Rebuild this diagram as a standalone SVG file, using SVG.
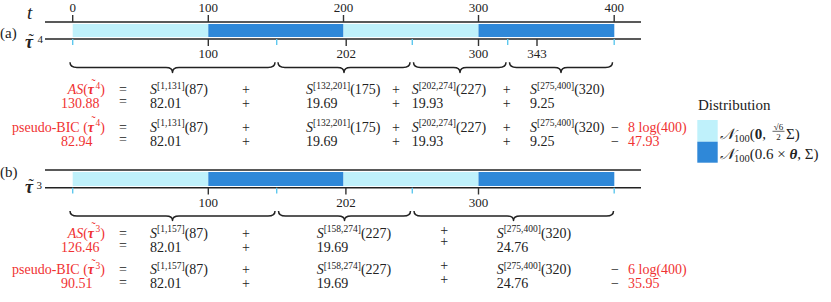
<svg xmlns="http://www.w3.org/2000/svg" width="831" height="302" viewBox="0 0 831 302" font-family="'Liberation Serif', 'DejaVu Serif', serif">
<defs>
<style>
text{font-family:"Liberation Serif","DejaVu Serif",serif;font-size:14px;fill:#222}
.tk{font-size:13px;text-anchor:middle}
.red{fill:#f03232}
.it{font-style:italic}
.sup{font-size:9.5px}
.mid{text-anchor:middle}
.end{text-anchor:end}
.ax{stroke:#222;stroke-width:1.6;fill:none}
.dt{stroke:#333;stroke-width:1.4}
.lt{stroke:#5ec8ee;stroke-width:1.4}
.light{fill:#bff1fb}
.dark{fill:#2f88d8}
.brace{fill:none;stroke:#222;stroke-width:1.5;stroke-linejoin:round}
.tau{font-weight:bold;font-style:italic}
.tl{font-size:12px}
</style>
</defs>
<rect width="831" height="302" fill="#fff"/>

<g id="panel-a">
  <text x="0" y="38" style="font-size:15px">(a)</text>
  <text x="27" y="18.5" class="it" style="font-size:19px">t</text>
  <text x="25" y="48" class="tau" style="font-size:18px">τ</text>
  <text x="28.5" y="45" style="font-size:16px">˜</text>
  <text x="37.5" y="43" style="font-size:11px">4</text>
  <rect class="light" x="72.7" y="24" width="135.6" height="13"/>
  <rect class="dark" x="208.3" y="24" width="135.2" height="13"/>
  <rect class="light" x="343.5" y="24" width="135" height="13"/>
  <rect class="dark" x="478.5" y="24" width="135.8" height="13"/>
  <line class="ax" x1="45" y1="22" x2="641" y2="22"/>
  <line class="ax" x1="45" y1="39" x2="641" y2="39"/>
  <g>
    <line class="dt" x1="72.7" y1="15" x2="72.7" y2="22"/>
    <line class="dt" x1="208.3" y1="15" x2="208.3" y2="22"/>
    <line class="dt" x1="343.5" y1="15" x2="343.5" y2="22"/>
    <line class="dt" x1="478.5" y1="15" x2="478.5" y2="22"/>
    <line class="dt" x1="614.2" y1="15" x2="614.2" y2="22"/>
    <text class="tk" x="72.7" y="11.5">0</text>
    <text class="tk" x="208.3" y="11.5">100</text>
    <text class="tk" x="343.5" y="11.5">200</text>
    <text class="tk" x="478.5" y="11.5">300</text>
    <text class="tk" x="614.2" y="11.5">400</text>
  </g>
  <g>
    <line class="dt" x1="208.3" y1="39" x2="208.3" y2="46"/>
    <line class="dt" x1="346.2" y1="39" x2="346.2" y2="46"/>
    <line class="dt" x1="478.5" y1="39" x2="478.5" y2="46"/>
    <line class="dt" x1="537" y1="39" x2="537" y2="46"/>
    <line class="lt" x1="72.7" y1="39" x2="72.7" y2="45"/>
    <line class="lt" x1="276.7" y1="39" x2="276.7" y2="45"/>
    <line class="lt" x1="412.3" y1="39" x2="412.3" y2="45"/>
    <line class="lt" x1="507.7" y1="39" x2="507.7" y2="45"/>
    <line class="lt" x1="614.2" y1="39" x2="614.2" y2="45"/>
    <text class="tk" x="208.3" y="57.5">100</text>
    <text class="tk" x="346.2" y="57.5">202</text>
    <text class="tk" x="478.5" y="57.5">300</text>
    <text class="tk" x="537" y="57.5">343</text>
  </g>
  <g>
    <path class="brace" d="M70,62.3 Q70,67.5 77,67.5 L166,67.5 Q172.5,67.5 172.5,72.5 Q172.5,67.5 179,67.5 L268,67.5 Q275,67.5 275,62.3"/>
    <path class="brace" d="M278,62.3 Q278,67.5 285,67.5 L337.5,67.5 Q344,67.5 344,72.5 Q344,67.5 350.5,67.5 L403,67.5 Q410,67.5 410,62.3"/>
    <path class="brace" d="M413.5,62.3 Q413.5,67.5 420.5,67.5 L453.5,67.5 Q460,67.5 460,72.5 Q460,67.5 466.5,67.5 L499,67.5 Q506,67.5 506,62.3"/>
    <path class="brace" d="M509.5,62.3 Q509.5,67.5 516.5,67.5 L554.5,67.5 Q561,67.5 561,72.5 Q561,67.5 567.5,67.5 L605.5,67.5 Q612.5,67.5 612.5,62.3"/>
  </g>
  <g id="a-rows">
    <text class="end red" x="105" y="94"><tspan class="it">AS</tspan>(<tspan class="tau">τ</tspan><tspan class="tl" dx="-2.5" dy="-6.5">˜</tspan><tspan class="sup" dx="0" dy="1">4</tspan><tspan dy="5.5">)</tspan></text>
    <text class="mid" x="123" y="94">=</text>
    <text x="150" y="94"><tspan class="it">S</tspan><tspan class="sup" dy="-5.5">[1,131]</tspan><tspan dy="5.5">(87)</tspan></text>
    <text class="mid" x="246" y="94">+</text>
    <text x="306" y="94"><tspan class="it">S</tspan><tspan class="sup" dy="-5.5">[132,201]</tspan><tspan dy="5.5">(175)</tspan></text>
    <text class="mid" x="396" y="94">+</text>
    <text x="411.7" y="94"><tspan class="it">S</tspan><tspan class="sup" dy="-5.5">[202,274]</tspan><tspan dy="5.5">(227)</tspan></text>
    <text class="mid" x="506.7" y="94">+</text>
    <text x="530" y="94"><tspan class="it">S</tspan><tspan class="sup" dy="-5.5">[275,400]</tspan><tspan dy="5.5">(320)</tspan></text>

    <text class="red" x="61" y="107.5">130.88</text>
    <text class="mid" x="123" y="106">=</text>
    <text x="150" y="107.5">82.01</text>
    <text class="mid" x="246" y="107.5">+</text>
    <text x="306" y="107.5">19.69</text>
    <text class="mid" x="396" y="107.5">+</text>
    <text x="411.7" y="107.5">19.93</text>
    <text class="mid" x="506.7" y="107.5">+</text>
    <text x="530" y="107.5">9.25</text>

    <text class="end red" x="105" y="131.5">pseudo-BIC (<tspan class="tau">τ</tspan><tspan class="tl" dx="-2.5" dy="-6.5">˜</tspan><tspan class="sup" dx="0" dy="1">4</tspan><tspan dy="5.5">)</tspan></text>
    <text class="mid" x="123" y="131.5">=</text>
    <text x="150" y="131.5"><tspan class="it">S</tspan><tspan class="sup" dy="-5.5">[1,131]</tspan><tspan dy="5.5">(87)</tspan></text>
    <text class="mid" x="246" y="131.5">+</text>
    <text x="306" y="131.5"><tspan class="it">S</tspan><tspan class="sup" dy="-5.5">[132,201]</tspan><tspan dy="5.5">(175)</tspan></text>
    <text class="mid" x="396" y="131.5">+</text>
    <text x="411.7" y="131.5"><tspan class="it">S</tspan><tspan class="sup" dy="-5.5">[202,274]</tspan><tspan dy="5.5">(227)</tspan></text>
    <text class="mid" x="506.7" y="131.5">+</text>
    <text x="530" y="131.5"><tspan class="it">S</tspan><tspan class="sup" dy="-5.5">[275,400]</tspan><tspan dy="5.5">(320)</tspan></text>
    <text class="mid" x="615" y="131.5">−</text>
    <text class="red" x="628" y="131.5">8 log(400)</text>

    <text class="red" x="61" y="145.5">82.94</text>
    <text class="mid" x="123" y="144">=</text>
    <text x="150" y="145.5">82.01</text>
    <text class="mid" x="246" y="145.5">+</text>
    <text x="306" y="145.5">19.69</text>
    <text class="mid" x="396" y="145.5">+</text>
    <text x="411.7" y="145.5">19.93</text>
    <text class="mid" x="506.7" y="145.5">+</text>
    <text x="530" y="145.5">9.25</text>
    <text class="mid" x="615" y="145.5">−</text>
    <text class="red" x="628" y="145.5">47.93</text>
  </g>
</g>

<g id="panel-b">
  <text x="0" y="176.5" style="font-size:15px">(b)</text>
  <text x="25" y="193" class="tau" style="font-size:18px">τ</text>
  <text x="28.5" y="190" style="font-size:16px">˜</text>
  <text x="36.5" y="189" style="font-size:11px">3</text>
  <rect class="light" x="72.7" y="172" width="135.6" height="14"/>
  <rect class="dark" x="208.3" y="172" width="135.2" height="14"/>
  <rect class="light" x="343.5" y="172" width="135" height="14"/>
  <rect class="dark" x="478.5" y="172" width="135.8" height="14"/>
  <line class="ax" x1="45" y1="170" x2="641" y2="170"/>
  <line class="ax" x1="45" y1="187.7" x2="641" y2="187.7"/>
  <g>
    <line class="dt" x1="208.3" y1="187.7" x2="208.3" y2="194.5"/>
    <line class="dt" x1="345.9" y1="187.7" x2="345.9" y2="194.5"/>
    <line class="dt" x1="478.5" y1="187.7" x2="478.5" y2="194.5"/>
    <line class="lt" x1="72.7" y1="187.7" x2="72.7" y2="193.5"/>
    <line class="lt" x1="276.7" y1="187.7" x2="276.7" y2="193.5"/>
    <line class="lt" x1="412.3" y1="187.7" x2="412.3" y2="193.5"/>
    <line class="lt" x1="614.2" y1="187.7" x2="614.2" y2="193.5"/>
    <text class="tk" x="208.3" y="206.5">100</text>
    <text class="tk" x="345.9" y="206.5">202</text>
    <text class="tk" x="478.5" y="206.5">300</text>
  </g>
  <g>
    <path class="brace" d="M70,211 Q70,216 77,216 L166,216 Q172.5,216 172.5,220.5 Q172.5,216 179,216 L268,216 Q275,216 275,211"/>
    <path class="brace" d="M278.5,211 Q278.5,216 285.5,216 L338,216 Q344.5,216 344.5,220.5 Q344.5,216 351,216 L403.5,216 Q410.5,216 410.5,211"/>
    <path class="brace" d="M414,211 Q414,216 421,216 L507,216 Q513.5,216 513.5,220.5 Q513.5,216 520,216 L606.5,216 Q613.5,216 613.5,211"/>
  </g>
  <g id="b-rows">
    <text class="end red" x="105" y="237.5"><tspan class="it">AS</tspan>(<tspan class="tau">τ</tspan><tspan class="tl" dx="-2.5" dy="-6.5">˜</tspan><tspan class="sup" dx="0" dy="1">3</tspan><tspan dy="5.5">)</tspan></text>
    <text class="mid" x="123" y="237.5">=</text>
    <text x="150" y="237.5"><tspan class="it">S</tspan><tspan class="sup" dy="-5.5">[1,157]</tspan><tspan dy="5.5">(87)</tspan></text>
    <text class="mid" x="246" y="237.5">+</text>
    <text x="316.7" y="237.5"><tspan class="it">S</tspan><tspan class="sup" dy="-5.5">[158,274]</tspan><tspan dy="5.5">(227)</tspan></text>
    <text class="mid" x="444.3" y="234.5">+</text>
    <text x="496.7" y="237.5"><tspan class="it">S</tspan><tspan class="sup" dy="-5.5">[275,400]</tspan><tspan dy="5.5">(320)</tspan></text>

    <text class="red" x="61" y="251.5">126.46</text>
    <text class="mid" x="123" y="250">=</text>
    <text x="150" y="251.5">82.01</text>
    <text class="mid" x="246" y="251.5">+</text>
    <text x="316.7" y="251.5">19.69</text>
    <text class="mid" x="444.3" y="246">+</text>
    <text x="496.7" y="251.5">24.76</text>

    <text class="end red" x="105" y="274">pseudo-BIC (<tspan class="tau">τ</tspan><tspan class="tl" dx="-2.5" dy="-6.5">˜</tspan><tspan class="sup" dx="0" dy="1">3</tspan><tspan dy="5.5">)</tspan></text>
    <text class="mid" x="123" y="274">=</text>
    <text x="150" y="274"><tspan class="it">S</tspan><tspan class="sup" dy="-5.5">[1,157]</tspan><tspan dy="5.5">(87)</tspan></text>
    <text class="mid" x="246" y="274">+</text>
    <text x="316.7" y="274"><tspan class="it">S</tspan><tspan class="sup" dy="-5.5">[158,274]</tspan><tspan dy="5.5">(227)</tspan></text>
    <text class="mid" x="444.3" y="269.5">+</text>
    <text x="496.7" y="274"><tspan class="it">S</tspan><tspan class="sup" dy="-5.5">[275,400]</tspan><tspan dy="5.5">(320)</tspan></text>
    <text class="mid" x="615" y="274">−</text>
    <text class="red" x="628" y="274">6 log(400)</text>

    <text class="red" x="61" y="288">90.51</text>
    <text class="mid" x="123" y="286.5">=</text>
    <text x="150" y="288">82.01</text>
    <text class="mid" x="246" y="288">+</text>
    <text x="316.7" y="288">19.69</text>
    <text class="mid" x="444.3" y="283.5">+</text>
    <text x="496.7" y="288">24.76</text>
    <text class="mid" x="615" y="288">−</text>
    <text class="red" x="628" y="288">35.95</text>
  </g>
</g>

<g id="legend">
  <text x="698" y="109.5" style="font-size:15px">Distribution</text>
  <rect class="light" x="697.3" y="120" width="20.4" height="21.7"/>
  <rect class="dark" x="697.3" y="141.7" width="20.4" height="21"/>
  <text x="720" y="138.5" style="font-size:15px"><tspan class="it">𝒩</tspan><tspan style="font-size:10.5px" dy="3">100</tspan><tspan dy="-3">(</tspan><tspan font-weight="bold">0</tspan>,</text>
  <text x="778.5" y="129.5" class="mid" style="font-size:9px">√6</text>
  <line x1="772.5" y1="131.3" x2="784.5" y2="131.3" stroke="#222" stroke-width="0.7"/>
  <text x="778.5" y="139.5" class="mid" style="font-size:9px">2</text>
  <text x="786" y="138.5" style="font-size:15px">Σ)</text>
  <text x="720" y="158.5" style="font-size:15px"><tspan class="it">𝒩</tspan><tspan style="font-size:10.5px" dy="3">100</tspan><tspan dy="-3">(0.6 × </tspan><tspan class="tau">θ</tspan>, Σ)</text>
</g>
</svg>
